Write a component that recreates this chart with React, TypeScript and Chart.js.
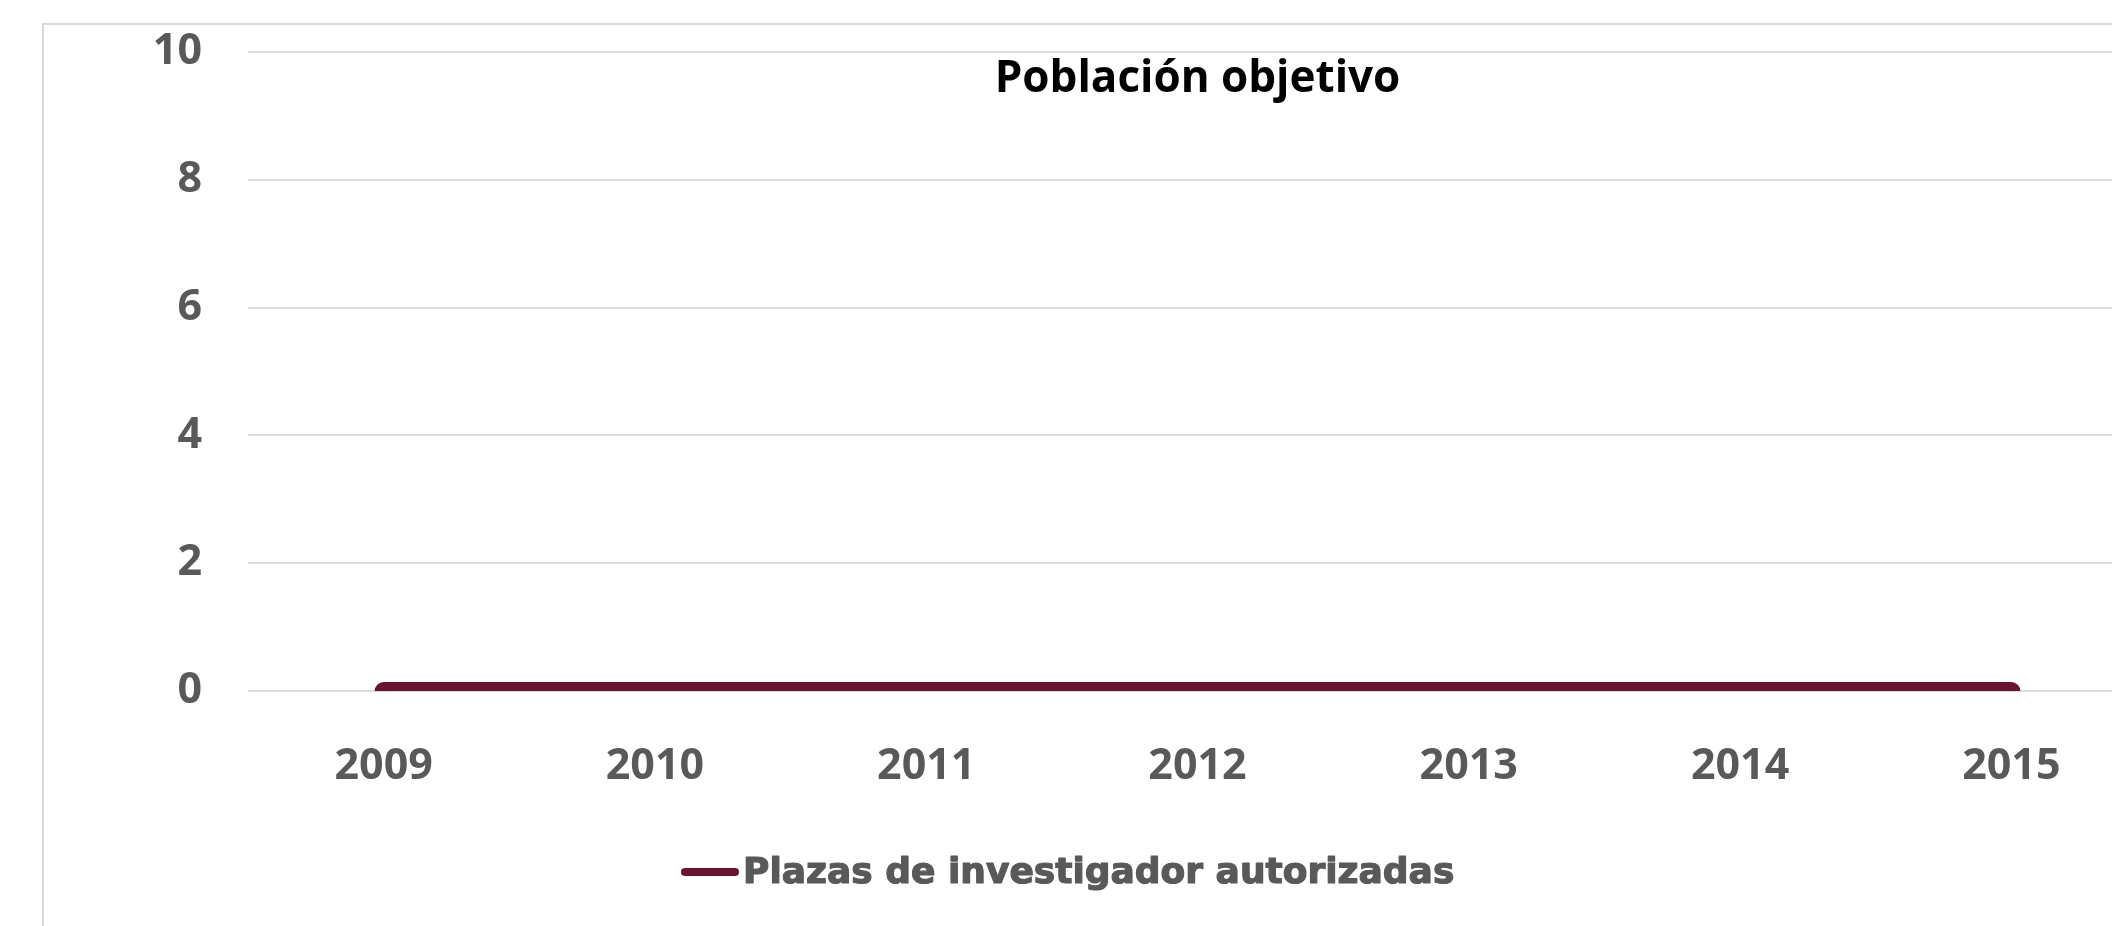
import React, { useEffect, useRef } from "react";
import { Chart, registerables } from "chart.js";

Chart.register(...registerables);

const categories = ["2009", "2010", "2011", "2012", "2013", "2014", "2015"];
const plazasValues = [0, 0, 0, 0, 0, 0, 0];
const seriesLabel = "Plazas de investigador autorizadas";
const chartTitle = "Población objetivo";
const yMin = 0;
const yMax = 10;
const yStep = 2;

const LINE_COLOR = "#66142f";
const TEXT_GRAY = "#595959";
const CANVAS_W = 2200;
const CANVAS_H = 926;

const overlayPlugin = {
  id: "overlayTitleLegend",
  afterDraw(chart: any) {
    const ctx = chart.ctx;
    const area = chart.chartArea;
    ctx.save();
    // title, overlaid on the plot area
    ctx.font = "bold 44px 'Open Sans'";
    ctx.fillStyle = "#000000";
    ctx.textAlign = "center";
    ctx.textBaseline = "alphabetic";
    ctx.fillText(chartTitle, (area.left + area.right) / 2, 92);

    // legend
    const ds = chart.data.datasets[0];
    ctx.strokeStyle = ds.borderColor;
    ctx.lineWidth = 8;
    ctx.lineCap = "round";
    ctx.beginPath();
    ctx.moveTo(685, 872);
    ctx.lineTo(735, 872);
    ctx.stroke();
    ctx.font = "bold 36px 'DejaVu Sans'";
    ctx.fillStyle = TEXT_GRAY;
    ctx.strokeStyle = TEXT_GRAY;
    ctx.lineWidth = 1.2;
    ctx.lineJoin = "round";
    ctx.textAlign = "left";
    ctx.fillText(ds.label, 743, 883);
    ctx.strokeText(ds.label, 743, 883);
    ctx.restore();
  },
};

export default function App() {
  const canvasRef = useRef<HTMLCanvasElement | null>(null);

  useEffect(() => {
    const canvas = canvasRef.current;
    if (!canvas) return;
    const chart = new Chart(canvas, {
      type: "line",
      data: {
        labels: categories,
        datasets: [
          {
            label: seriesLabel,
            data: plazasValues,
            borderColor: LINE_COLOR,
            backgroundColor: LINE_COLOR,
            borderWidth: 18,
            borderCapStyle: "round",
            borderJoinStyle: "round",
            pointRadius: 0,
            pointHoverRadius: 0,
            tension: 0,
            clip: 0,
          } as any,
        ],
      },
      options: {
        animation: false,
        responsive: false,
        devicePixelRatio: 1,
        layout: { padding: { top: 52, right: 53, bottom: 0, left: 0 } },
        plugins: {
          legend: { display: false },
          title: { display: false },
          tooltip: { enabled: false },
        },
        scales: {
          x: {
            type: "category",
            offset: true,
            grid: { display: false, drawTicks: false },
            border: { display: false },
            ticks: {
              color: TEXT_GRAY,
              font: { family: "'Open Sans'", size: 43, weight: "bold" },
              padding: 50,
              maxRotation: 0,
              autoSkip: false,
            },
            afterFit(scale: any) {
              scale.height = 235;
              scale.paddingLeft = 0;
              scale.paddingRight = 0;
            },
          },
          y: {
            min: yMin,
            max: yMax,
            grid: { color: "#dedede", lineWidth: 2, drawTicks: false },
            border: { display: false },
            ticks: {
              stepSize: yStep,
              color: TEXT_GRAY,
              font: { family: "'Open Sans'", size: 43, weight: "bold" },
              padding: 46,
            },
            afterFit(scale: any) {
              scale.width = 248;
              scale.paddingTop = 0;
              scale.paddingBottom = 0;
            },
          },
        },
      },
      plugins: [overlayPlugin],
    });
    return () => chart.destroy();
  }, []);

  return (
    <div
      style={{
        position: "fixed",
        left: 0,
        top: 0,
        width: 2112,
        height: 926,
        overflow: "hidden",
        background: "#ffffff",
      }}
    >
      <canvas
        ref={canvasRef}
        width={CANVAS_W}
        height={CANVAS_H}
        style={{ position: "absolute", left: 0, top: 0, width: CANVAS_W, height: CANVAS_H }}
      />
      <div
        style={{
          position: "absolute",
          left: 42,
          top: 23,
          width: 2300,
          height: 1000,
          border: "2px solid #d9d9d9",
          boxSizing: "border-box",
          pointerEvents: "none",
        }}
      />
    </div>
  );
}
